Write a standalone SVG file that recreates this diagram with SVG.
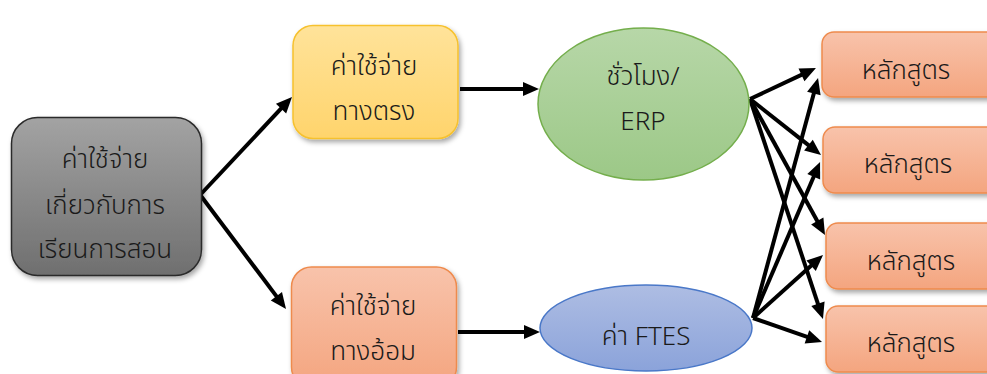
<svg xmlns="http://www.w3.org/2000/svg" width="987" height="374" viewBox="0 0 987 374">
<defs>
<linearGradient id="gGray" x1="0" y1="0" x2="0" y2="1"><stop offset="0" stop-color="#a3a3a3"/><stop offset="1" stop-color="#6f6f6f"/></linearGradient>
<linearGradient id="gYellow" x1="0" y1="0" x2="0" y2="1"><stop offset="0" stop-color="#ffe39a"/><stop offset="1" stop-color="#ffd46c"/></linearGradient>
<linearGradient id="gSalmon" x1="0" y1="0" x2="0" y2="1"><stop offset="0" stop-color="#f8c3ab"/><stop offset="1" stop-color="#f4a57f"/></linearGradient>
<linearGradient id="gGreen" x1="0" y1="0" x2="0" y2="1"><stop offset="0" stop-color="#b7d7a8"/><stop offset="1" stop-color="#9cc887"/></linearGradient>
<linearGradient id="gBlue" x1="0" y1="0" x2="0" y2="1"><stop offset="0" stop-color="#aebde3"/><stop offset="1" stop-color="#8ba3da"/></linearGradient>
<filter id="sh" x="-10%" y="-10%" width="130%" height="140%"><feDropShadow dx="2" dy="3" stdDeviation="2.5" flood-color="#000" flood-opacity="0.35"/></filter>
<marker id="ah" markerUnits="userSpaceOnUse" markerWidth="16" markerHeight="14" refX="4" refY="7" orient="auto" overflow="visible"><path d="M0,0 L16,7 L0,14 z" fill="#000"/></marker>
</defs>
<style>
text{font-family:"Noto Sans Thai","Noto Sans","DejaVu Sans",sans-serif;font-size:26px;font-weight:300;fill:#1a1a1a;text-anchor:middle}
.c{stroke:#000;stroke-width:4;fill:none;marker-end:url(#ah)}
</style>
<g id="connectors">
<line class="c" x1="201" y1="194" x2="283.8" y2="105.7"/>
<line class="c" x1="201" y1="196" x2="278.8" y2="299.4"/>
<line class="c" x1="460" y1="89" x2="527" y2="89"/>
<line class="c" x1="458" y1="332" x2="528" y2="332"/>
<line class="c" x1="750" y1="99" x2="805.1" y2="73.1"/>
<line class="c" x1="750" y1="99" x2="811.6" y2="147.6"/>
<line class="c" x1="750" y1="99" x2="819.2" y2="224.5"/>
<line class="c" x1="750" y1="99" x2="819.2" y2="307.6"/>
<line class="c" x1="753" y1="318" x2="814.9" y2="89.6"/>
<line class="c" x1="753" y1="318" x2="815.3" y2="173"/>
<line class="c" x1="753" y1="318" x2="814.1" y2="263"/>
<line class="c" x1="753" y1="318" x2="810.7" y2="338.1"/>
</g>
<g id="n-total">
<rect x="11.5" y="117.5" width="190" height="158" rx="26" fill="url(#gGray)" stroke="#2b2b2b" stroke-width="1.5" filter="url(#sh)"/>
<text x="105" y="168">ค่าใช้จ่าย</text>
<text x="105" y="214">เกี่ยวกับการ</text>
<text x="105" y="258">เรียนการสอน</text>
</g>
<g id="n-direct">
<rect x="293" y="25.5" width="165" height="113" rx="20" fill="url(#gYellow)" stroke="#f6c12e" stroke-width="1.5" filter="url(#sh)"/>
<text x="374" y="75">ค่าใช้จ่าย</text>
<text x="374" y="120">ทางตรง</text>
</g>
<g id="n-indirect">
<rect x="291.5" y="267" width="165" height="120" rx="20" fill="url(#gSalmon)" stroke="#ee8b4e" stroke-width="1.5" filter="url(#sh)"/>
<text x="373" y="315">ค่าใช้จ่าย</text>
<text x="373" y="360">ทางอ้อม</text>
</g>
<g id="n-hours">
<ellipse cx="643.5" cy="104" rx="105.5" ry="76" fill="url(#gGreen)" stroke="#74ae4c" stroke-width="1.5"/>
<text x="643" y="85">ชั่วโมง/</text>
<text x="643" y="130">ERP</text>
</g>
<g id="n-ftes">
<ellipse cx="646" cy="328" rx="106" ry="43" fill="url(#gBlue)" stroke="#4a78c8" stroke-width="1.5"/>
<text x="646" y="345">ค่า FTES</text>
</g>
<g id="n-course1">
<rect x="822" y="32" width="180" height="65" rx="12" fill="url(#gSalmon)" stroke="#ee8b4e" stroke-width="1.5" filter="url(#sh)"/>
<text x="906" y="79">หลักสูตร</text>
</g>
<g id="n-course2">
<rect x="823" y="127" width="180" height="66" rx="12" fill="url(#gSalmon)" stroke="#ee8b4e" stroke-width="1.5" filter="url(#sh)"/>
<text x="908" y="173">หลักสูตร</text>
</g>
<g id="n-course3">
<rect x="826" y="223" width="180" height="66" rx="12" fill="url(#gSalmon)" stroke="#ee8b4e" stroke-width="1.5" filter="url(#sh)"/>
<text x="911" y="270">หลักสูตร</text>
</g>
<g id="n-course4">
<rect x="826" y="306" width="180" height="66" rx="12" fill="url(#gSalmon)" stroke="#ee8b4e" stroke-width="1.5" filter="url(#sh)"/>
<text x="911" y="352">หลักสูตร</text>
</g>
</svg>
